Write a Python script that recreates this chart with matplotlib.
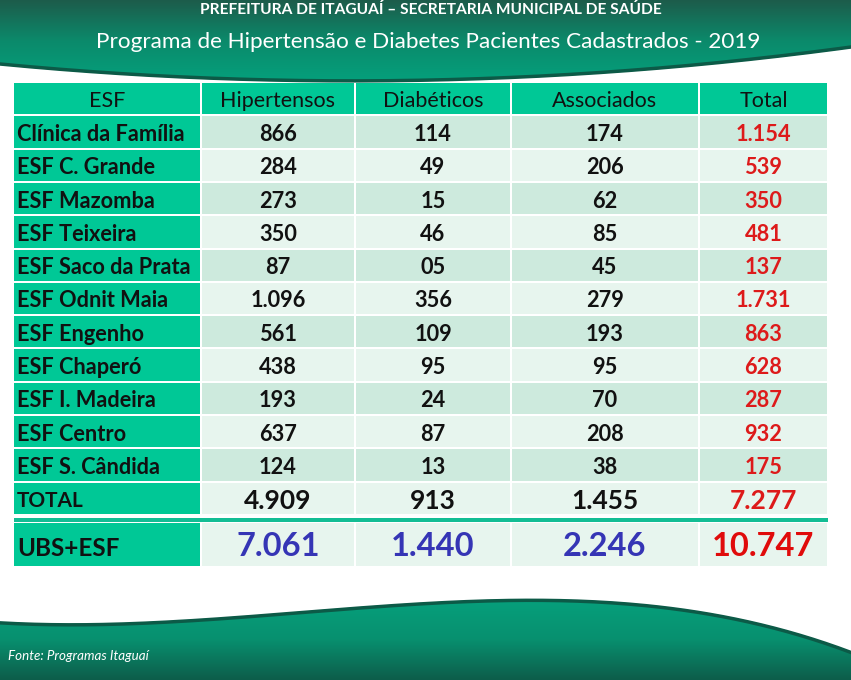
import numpy as np
import matplotlib.pyplot as plt
from matplotlib.patches import Rectangle, Polygon
from matplotlib.colors import LinearSegmentedColormap

# table data
units = ["Clínica da Família", "ESF C. Grande", "ESF Mazomba", "ESF Teixeira",
         "ESF Saco da Prata", "ESF Odnit Maia", "ESF Engenho", "ESF Chaperó",
         "ESF I. Madeira", "ESF Centro", "ESF S. Cândida"]
hipertensos = [866, 284, 273, 350, 87, 1096, 561, 438, 193, 637, 124]
diabeticos = [114, 49, 15, 46, 5, 356, 109, 95, 24, 87, 13]
associados = [174, 206, 62, 85, 45, 279, 193, 95, 70, 208, 38]
total = [1154, 539, 350, 481, 137, 1731, 863, 628, 287, 932, 175]
total_esf = [4909, 913, 1455, 7277]
ubs_esf = [7061, 1440, 2246, 10747]
headers = ["ESF", "Hipertensos", "Diabéticos", "Associados", "Total"]

TEAL = "#00c896"
DARK_CELL = "#cdeadd"
LIGHT_CELL = "#e7f5ee"
RED = "#dd1a1a"
BLUE = "#3535b5"
FONT = ["Lato", "DejaVu Sans"]
NARROW = ["Liberation Sans Narrow", "Lato", "DejaVu Sans"]


def fmt(v):
    return f"{v:02,d}".replace(",", ".")


fig = plt.figure(figsize=(8.51, 6.80), dpi=100)
ax = fig.add_axes([0, 0, 1, 1])
ax.set_xlim(0, 851)
ax.set_ylim(680, 0)
ax.axis("off")

# header banner
xs = np.linspace(0, 851, 200)
p = np.polyfit([0, 470, 851], [65, 80, 48], 2)
yb = np.polyval(p, xs)
banner = Polygon(np.column_stack([np.r_[0, xs, 851], np.r_[0, yb, 0]]),
                 closed=True, facecolor="none", edgecolor="none")
ax.add_patch(banner)
cm_top = LinearSegmentedColormap.from_list("top", ["#1d5c4b", "#0b8a6b", "#05a07c"])
grad = np.linspace(0, 1, 100).reshape(-1, 1)
im = ax.imshow(grad, cmap=cm_top, extent=[0, 851, 82, 0], aspect="auto", zorder=1)
im.set_clip_path(banner)
ax.plot(xs, yb - 1, color="#0c5a47", lw=2.5, zorder=2)

# footer wave
pf = np.polyfit([0, 250, 545, 700, 851], [622, 615, 601, 610, 652], 3)
yf = np.polyval(pf, xs)
footer = Polygon(np.column_stack([np.r_[0, xs, 851], np.r_[680, yf, 680]]),
                 closed=True, facecolor="none", edgecolor="none")
ax.add_patch(footer)
cm_bot = LinearSegmentedColormap.from_list("bot", ["#06a07c", "#08906f", "#0d5d4a"])
im2 = ax.imshow(grad, cmap=cm_bot, extent=[0, 851, 680, 598], aspect="auto", zorder=1)
im2.set_clip_path(footer)
ax.plot(xs, yf + 1, color="#0c5a47", lw=2.5, zorder=2)

ax.text(431, 10, "PREFEITURA DE ITAGUAÍ – SECRETARIA MUNICIPAL DE SAÚDE", color="white",
        fontsize=11.2, fontweight="bold", family=NARROW, ha="center", va="center", zorder=3)
ax.text(428, 42, "Programa de Hipertensão e Diabetes Pacientes Cadastrados - 2019",
        color="white", fontsize=16.2, family=FONT, ha="center", va="center", zorder=3)
ax.text(8, 656, "Fonte: Programas Itaguaí", color="white", fontsize=9.6, style="italic",
        family=NARROW, ha="left", va="center", zorder=3)

# table geometry
col_x = [14, 201, 355, 511, 699, 828]
row_top = 83
row_h = 33.3
gap = 2

def cell(c, top, h, color):
    ax.add_patch(Rectangle((col_x[c] + (gap / 2 if c else 0), top), col_x[c + 1] - col_x[c] - (gap if c else gap / 2),
                           h, facecolor=color, edgecolor="none", zorder=2))

def center(c):
    return (col_x[c] + col_x[c + 1]) / 2

# header row
for c, name in enumerate(headers):
    cell(c, row_top, row_h - gap, TEAL)
    ax.text(center(c), row_top + (row_h - gap) / 2 + 2.5, name, fontsize=15.5, family=FONT,
            ha="center", va="center", color="#111111", zorder=3)

cols = [hipertensos, diabeticos, associados, total]
for r, unit in enumerate(units):
    top = row_top + (r + 1) * row_h
    mid = top + (row_h - gap) / 2 + 2.5
    bg = DARK_CELL if r % 2 == 0 else LIGHT_CELL
    cell(0, top, row_h - gap, TEAL)
    ax.text(17, mid, unit, fontsize=15.7, fontweight="bold", family=FONT,
            ha="left", va="center", color="#111111", zorder=3)
    for c, vals in enumerate(cols, start=1):
        cell(c, top, row_h - gap, bg)
        ax.text(center(c), mid, fmt(vals[r]), fontsize=15.7, fontweight="bold", family=FONT,
                ha="center", va="center", color=RED if c == 4 else "#111111", zorder=3)

# TOTAL row
top = row_top + 12 * row_h
mid = top + (row_h - gap) / 2 + 2.5
cell(0, top, row_h - gap, TEAL)
ax.text(17, mid, "TOTAL", fontsize=15, fontweight="bold", family=FONT,
        ha="left", va="center", color="#111111", zorder=3)
for c, v in enumerate(total_esf, start=1):
    cell(c, top, row_h - gap, LIGHT_CELL)
    ax.text(center(c), mid, fmt(v), fontsize=19, fontweight="bold", family=FONT,
            ha="center", va="center", color=RED if c == 4 else "#111111", zorder=3)

# separator line
ax.add_patch(Rectangle((col_x[0], 517.5), col_x[-1] - col_x[0], 4, facecolor="#13bd94",
                       edgecolor="none", zorder=2))

# UBS+ESF row
top, h = 523, 43
mid = top + h / 2 + 2
cell(0, top, h, TEAL)
ax.text(17, mid + 2, "UBS+ESF", fontsize=17.5, fontweight="bold", family=FONT,
        ha="left", va="center", color="#111111", zorder=3)
for c, v in enumerate(ubs_esf, start=1):
    cell(c, top, h, LIGHT_CELL)
    ax.text(center(c), mid, fmt(v), fontsize=23.5, fontweight="bold", family=FONT,
            ha="center", va="center", color="#e00b0b" if c == 4 else BLUE, zorder=3)

fig.savefig("out.png", dpi=100)
